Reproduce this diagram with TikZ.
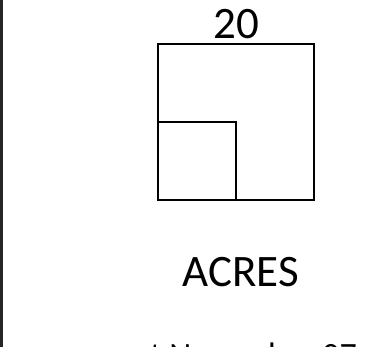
\documentclass[tikz,border=0pt]{standalone}
\usepackage{fontspec}
\setmainfont{Carlito}
\usetikzlibrary{positioning}

\begin{document}
\begin{tikzpicture}[x=1pt,y=-1pt,
  square/.style={draw,line width=2.2pt,minimum size=#1,inner sep=0pt,outer sep=0pt},
  caption/.style={inner sep=0pt,font=\fontsize{#1}{#1}\selectfont}
]
\useasboundingbox (0,0) rectangle (368,347);
\clip (0,0) rectangle (368,347);
\draw[line width=3pt,black!85] (1.5,0) -- (1.5,347);
\node[square=156] (field) at (236,122) {};
\node[square=78,anchor=south west] (plot) at (field.south west) {};
\node[caption=45,anchor=base] (side) at (236,39) {20};
\node[caption=45,anchor=base] (unit) at (241,287) {ACRES};
\node[caption=34,anchor=base west] (date) at (150,367) {t November 07};
\end{tikzpicture}
\end{document}
